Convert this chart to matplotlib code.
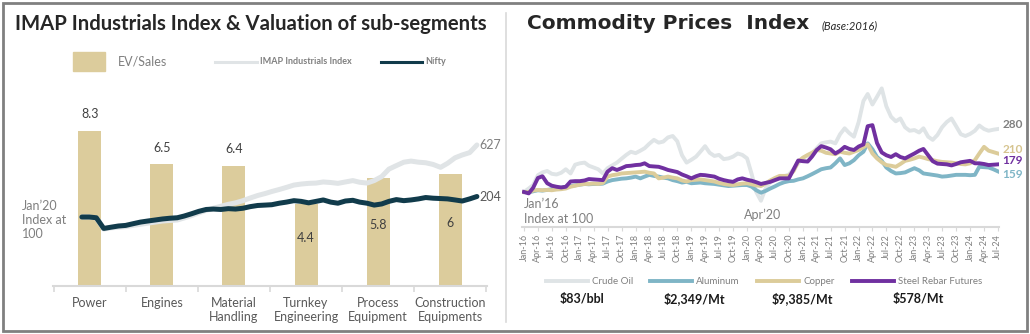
import matplotlib.pyplot as plt
import matplotlib.dates as mdates
from matplotlib.patches import Rectangle
from matplotlib.lines import Line2D
import numpy as np
import pandas as pd

plt.rcParams['font.family'] = ['Lato', 'DejaVu Sans']

W, H = 1030, 334


def fx(px):
    return px / W


def fy(py):
    return 1 - py / H


# ---- left panel: EV/Sales of sub-segments
segments = ['Power', 'Engines', 'Material\nHandling', 'Turnkey\nEngineering',
            'Process\nEquipment', 'Construction\nEquipments']
ev_sales = [8.3, 6.5, 6.4, 4.4, 5.8, 6]

# ---- left panel: monthly index, Jan'20 = 100
idx_months = pd.date_range('2020-01-01', '2024-07-01', freq='MS')
imap_index = [100, 100, 96, 56, 60, 62, 64, 68, 72, 76,
              80, 84, 86, 88, 96, 106, 118, 130, 140, 150,
              160, 168, 180, 195, 210, 222, 235, 248, 262, 278,
              285, 290, 292, 300, 296, 290, 300, 310, 298, 292,
              310, 340, 400, 430, 460, 470, 460, 455, 440, 415,
              450, 500, 527, 550, 627]
nifty = [100, 100, 97, 58, 62, 66, 68, 74, 80, 84,
         88, 92, 95, 97, 104, 114, 125, 134, 136, 134,
         138, 136, 140, 148, 154, 156, 158, 166, 172, 180,
         176, 168, 176, 184, 172, 166, 178, 182, 172, 166,
         156, 162, 176, 186, 180, 184, 190, 198, 194, 192,
         190, 184, 178, 190, 204]

# ---- right panel: commodity prices index, Jan'16 = 100
cm_months = pd.date_range('2016-01-01', '2024-07-01', freq='MS')
crude = [100, 110, 120, 148, 156, 160, 152, 150, 155, 165,
         153, 178, 182, 184, 175, 170, 165, 153, 168, 176,
         184, 195, 206, 215, 211, 218, 225, 238, 249, 241,
         244, 256, 260, 245, 205, 184, 192, 201, 215, 231,
         212, 203, 206, 194, 196, 201, 210, 206, 196, 150,
         100, 75, 110, 128, 134, 140, 145, 150, 165, 182,
         198, 204, 210, 225, 239, 242, 244, 239, 265, 282,
         268, 258, 300, 360, 380, 350, 372, 396, 345, 315,
         302, 310, 285, 275, 277, 270, 282, 258, 249, 263,
         285, 300, 310, 288, 265, 260, 266, 275, 290, 280,
         275, 278, 280]
aluminum = [100, 99, 102, 105, 104, 106, 108, 110, 112, 115,
            117, 119, 121, 123, 122, 123, 123, 124, 130, 134,
            136, 138, 139, 141, 144, 139, 144, 149, 146, 144,
            141, 139, 134, 131, 127, 129, 125, 126, 127, 125,
            124, 123, 121, 119, 117, 118, 119, 120, 120, 115,
            105, 98, 103, 110, 116, 123, 128, 131, 132, 136,
            139, 145, 151, 158, 165, 168, 170, 182, 196, 177,
            182, 191, 205, 215, 239, 222, 200, 189, 170, 160,
            153, 154, 156, 162, 168, 162, 153, 151, 149, 147,
            144, 145, 147, 149, 149, 149, 148, 149, 172, 171,
            170, 165, 159]
copper = [100, 100, 104, 106, 105, 106, 105, 107, 108, 110,
          115, 118, 121, 123, 123, 124, 123, 126, 144, 148,
          150, 153, 154, 155, 156, 157, 158, 155, 153, 139,
          141, 144, 141, 139, 133, 130, 134, 135, 136, 134,
          132, 130, 126, 123, 121, 120, 122, 124, 125, 122,
          119, 117, 124, 133, 140, 146, 146, 146, 160, 187,
          198, 206, 212, 220, 218, 212, 210, 208, 215, 212,
          210, 215, 220, 228, 236, 210, 196, 185, 177, 175,
          172, 180, 189, 192, 196, 201, 198, 194, 191, 188,
          186, 185, 184, 182, 180, 179, 182, 191, 210, 229,
          218, 214, 210]
steel = [100, 96, 112, 140, 145, 125, 118, 115, 113, 115,
         130, 131, 131, 133, 137, 136, 135, 134, 158, 168,
         163, 168, 174, 175, 177, 178, 182, 174, 173, 172,
         168, 163, 160, 157, 150, 145, 139, 145, 149, 148,
         146, 144, 138, 134, 131, 129, 136, 139, 135, 132,
         128, 123, 126, 129, 134, 139, 139, 139, 165, 190,
         188, 187, 201, 220, 231, 227, 222, 210, 218, 229,
         223, 220, 230, 236, 288, 291, 240, 213, 205, 200,
         208, 200, 196, 203, 210, 218, 223, 205, 188, 181,
         180, 179, 176, 180, 185, 187, 189, 182, 182, 180,
         177, 178, 179]
commodity_names = ['Crude Oil', 'Aluminum', 'Copper', 'Steel Rebar Futures']
commodity_prices = ['$83/bbl', '$2,349/Mt', '$9,385/Mt', '$578/Mt']

tan = '#dccc9c'
dark = '#113b4b'
light = '#e0e4e6'
grey_txt = '#7f7f7f'
cm_colors = ['#dfe4e6', '#7fb5c6', '#dccc9a', '#7030a0']
cm_series = [crude, aluminum, copper, steel]

fig = plt.figure(figsize=(W / 100, H / 100), dpi=100)

# ---------------- left panel
ax = fig.add_axes([fx(53), fy(286), fx(487) - fx(53), fy(99) - fy(286)])
pos = np.arange(len(segments))
ax.bar(pos, ev_sales, width=0.32, color=tan)
ax.set_xlim(-0.51, 5.51)
ax.set_ylim(0, 10)
for i, v in enumerate(ev_sales):
    if i < 3:
        ax.text(i, v + 0.9, f'{v:g}', ha='center', va='center', fontsize=9, color='#404040')
    else:
        ax.text(i, v / 2 + 0.35, f'{v:g}', ha='center', va='center', fontsize=9, color='#404040')
ax.set_xticks(pos, segments)
ax.set_xticks(np.arange(-0.5, 6, 1), minor=True)
ax.tick_params(axis='x', which='major', length=0, pad=8, labelsize=9, labelcolor='#595959')
ax.tick_params(axis='x', which='minor', length=4, width=1.2, color='#d9d9d9')
ax.set_yticks([])
for s in ['top', 'right', 'left']:
    ax.spines[s].set_visible(False)
ax.spines['bottom'].set_color('#d9d9d9')
ax.spines['bottom'].set_linewidth(1.5)

# lines on their own axes (sqrt-scaled)
axl = fig.add_axes([fx(53), fy(250), fx(487) - fx(53), fy(99) - fy(250)])
axl.patch.set_alpha(0)
axl.plot(idx_months, imap_index, color=light, lw=3.6, solid_capstyle='round')
axl.plot(idx_months, nifty, color=dark, lw=3.6, solid_capstyle='round')
axl.set_yscale('function', functions=(np.sqrt, np.square))
axl.set_ylim(9.7, 1200)
axl.set_xlim(idx_months[0] - pd.Timedelta(days=120), idx_months[-1] + pd.Timedelta(days=42))
axl.axis('off')
axl.annotate(f'{imap_index[-1]}', (idx_months[-1], imap_index[-1]), xytext=(2, 0),
             textcoords='offset points', va='center', fontsize=9, color=grey_txt,
             annotation_clip=False)
axl.annotate(f'{nifty[-1]}', (idx_months[-1], nifty[-1]), xytext=(2, 0),
             textcoords='offset points', va='center', fontsize=9, color='#595959',
             annotation_clip=False)

fig.text(fx(22), fy(220), 'Jan\u201920\nIndex at\n100', ha='left', va='center',
         fontsize=9, color=grey_txt, linespacing=1.25)

# left legend
fig.patches.append(Rectangle((fx(73), fy(71)), 32 / W, 19 / H, transform=fig.transFigure,
                             color=tan, figure=fig))
fig.text(fx(118), fy(62), 'EV/Sales', va='center', fontsize=9, color=grey_txt)
fig.lines.append(Line2D([fx(215), fx(257)], [fy(62), fy(62)], transform=fig.transFigure,
                        color=light, lw=2.2))
fig.text(fx(260), fy(62), 'IMAP Industrials Index', va='center', fontsize=6.5,
         color=grey_txt, fontweight='bold')
fig.lines.append(Line2D([fx(381), fx(422)], [fy(62), fy(62)], transform=fig.transFigure,
                        color=dark, lw=2.2))
fig.text(fx(425), fy(62), 'Nifty', va='center', fontsize=6.5, color=grey_txt,
         fontweight='bold')

fig.text(fx(15), fy(30), 'IMAP Industrials Index & Valuation of sub-segments',
         fontsize=14.6, fontweight='bold', color='#262626', va='baseline')

# ---------------- right panel
axr = fig.add_axes([fx(522), fy(227), fx(999) - fx(522), fy(80) - fy(227)])
axr.patch.set_alpha(0)
for s, c in zip(cm_series, cm_colors):
    axr.plot(cm_months, s, color=c, lw=2.8)
axr.set_ylim(0, 420)
axr.set_xlim(cm_months[0] - pd.Timedelta(days=13), cm_months[-1] + pd.Timedelta(days=7))
axr.xaxis.set_major_locator(mdates.MonthLocator(bymonth=[1, 4, 7, 10]))
axr.xaxis.set_major_formatter(mdates.DateFormatter('%b-%y'))
axr.tick_params(axis='x', length=3, width=0.8, color='#d9d9d9', pad=2, labelsize=6.5,
                labelcolor=grey_txt, labelrotation=90)
axr.set_yticks([])
for s in ['top', 'right', 'left']:
    axr.spines[s].set_visible(False)
axr.spines['bottom'].set_color('#d9d9d9')
axr.spines['bottom'].set_linewidth(1.5)

end_colors = ['#808080', '#7fb5c6', '#d6c48f', '#7030a0']
end_offsets = [3, -2, 3.2, 2.6]
for s, c, o in zip(cm_series, end_colors, end_offsets):
    axr.annotate(f'{s[-1]}', (cm_months[-1], s[-1]), xytext=(3, o), textcoords='offset points',
                 va='center', fontsize=8.5, color=c, fontweight='bold', annotation_clip=False)

fig.text(fx(524), fy(204), 'Jan\u201916', va='center', fontsize=9, color=grey_txt)
fig.text(fx(524), fy(219), 'Index at 100', va='center', fontsize=9, color=grey_txt)
fig.text(fx(744), fy(215), 'Apr\u201920', va='center', fontsize=9, color=grey_txt)

fig.text(fx(527), fy(29), 'Commodity Prices  Index', fontsize=14.5, fontweight='bold',
         family=['DejaVu Sans'], color='#262626', va='baseline')
fig.text(fx(822), fy(29), '(Base:2016)', fontsize=8, fontstyle='italic',
         color='#262626', va='baseline')

# right legend
leg_x = [546, 650, 757, 852]
price_x = [560, 664, 772, 893]
for name, c, x0, price, px0 in zip(commodity_names, cm_colors, leg_x, commodity_prices, price_x):
    fig.lines.append(Line2D([fx(x0), fx(x0 + 42)], [fy(281), fy(281)],
                            transform=fig.transFigure, color=c, lw=2.8))
    fig.text(fx(x0 + 46), fy(281), name, va='center', fontsize=7, color=grey_txt)
    fig.text(fx(px0), fy(299), price, va='center', fontsize=9, fontweight='bold',
             color='#1a1a1a')

# divider and frame
fig.lines.append(Line2D([fx(506), fx(506)], [fy(13), fy(322)], transform=fig.transFigure,
                        color='#d9d9d9', lw=1.2))
fig.patches.append(Rectangle((fx(3), fy(331)), fx(1027) - fx(3), fy(3) - fy(331),
                             transform=fig.transFigure, fill=False, ec='#808080', lw=2,
                             figure=fig))

fig.savefig('out.png', dpi=100)
